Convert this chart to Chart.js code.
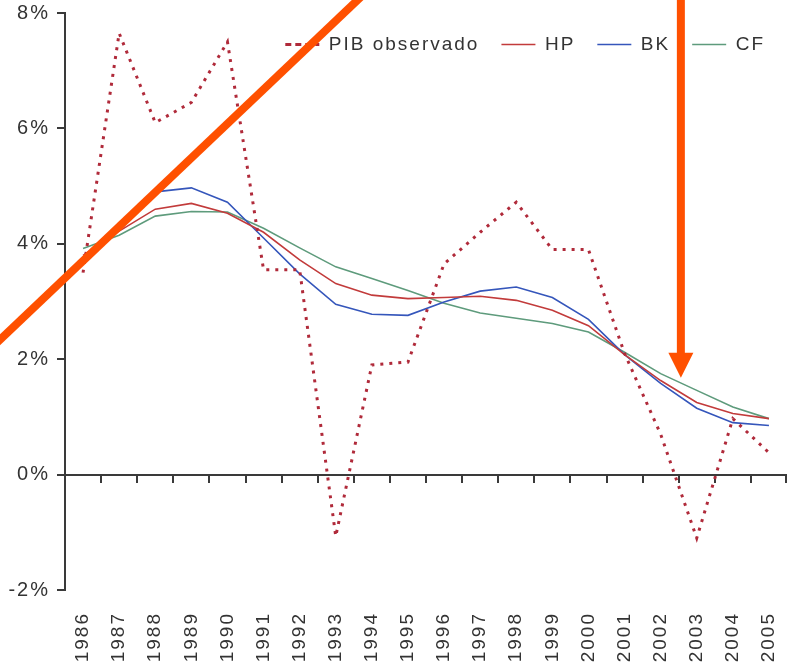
<!DOCTYPE html>
<html>
<head>
<meta charset="utf-8">
<script src="https://cdn.jsdelivr.net/npm/chart.js@4.4.0/dist/chart.umd.min.js"></script>
<style>
  body { margin: 0; background: #fff; }
  #wrap { width: 794px; height: 663px; }
</style>
</head>
<body>
<div id="wrap"><canvas id="myChart" width="794" height="663"></canvas></div>
<script>
var years = ["1986", "1987", "1988", "1989", "1990", "1991", "1992", "1993", "1994", "1995",
             "1996", "1997", "1998", "1999", "2000", "2001", "2002", "2003", "2004", "2005"];
var pibObservado = [3.5, 7.65, 6.1, 6.45, 7.5, 3.55, 3.55, -1.07, 1.9, 1.95,
                    3.65, 4.2, 4.72, 3.9, 3.9, 2.1, 0.7, -1.1, 0.97, 0.38];
var hp = [3.8, 4.22, 4.6, 4.7, 4.53, 4.2, 3.72, 3.31, 3.11, 3.05,
          3.07, 3.09, 3.02, 2.85, 2.58, 2.08, 1.63, 1.25, 1.06, 0.97];
var bk = [3.77, 4.35, 4.9, 4.97, 4.72, 4.1, 3.48, 2.95, 2.78, 2.76,
          2.99, 3.18, 3.25, 3.07, 2.69, 2.08, 1.58, 1.15, 0.9, 0.85];
var cf = [3.92, 4.15, 4.48, 4.56, 4.55, 4.27, 3.93, 3.6, 3.4, 3.19,
          2.97, 2.8, 2.71, 2.62, 2.47, 2.12, 1.75, 1.46, 1.17, 0.97];
var yTicks = [-2, 0, 2, 4, 6, 8];

// orange marks over the chart, in data units (category index, %)
var slashLine = [{x: -2.6, y: 2.16}, {x: 7.9, y: 8.4}];
var arrowLine = [{x: 16.56, y: 8.4}, {x: 16.56, y: 1.68}];

var axisColor = "#3a3a3a";

Chart.defaults.font.family = "'Liberation Sans', Arial, sans-serif";
Chart.defaults.color = "#333333";

// text in the picture is set a bit wide
var spacing = {
  id: "spacing",
  beforeUpdate: function(chart){ chart.ctx.letterSpacing = "2px"; },
  beforeDraw: function(chart){ chart.ctx.letterSpacing = "2px"; },
  beforeLayout: function(chart){
    // legend sits inside the plot, so it must not take room
    var lg = chart.legend;
    if (lg && !lg.patched) {
      var fit = lg.fit;
      lg.fit = function(){ fit.call(this); this.height = 0; };
      lg.patched = true;
    }
  },
  afterLayout: function(chart){
    var lg = chart.legend;
    lg.top = chart.chartArea.top;
    lg.bottom = lg.top + 70;
  }
};

// x axis runs along 0%, ticks between the years
var zeroAxis = {
  id: "zeroAxis",
  beforeDatasetsDraw: function(chart){
    var ctx = chart.ctx;
    var x = chart.scales.x, y = chart.scales.y, area = chart.chartArea;
    var y0 = Math.round(y.getPixelForValue(0));
    ctx.save();
    ctx.strokeStyle = axisColor;
    ctx.lineWidth = 2;
    ctx.beginPath();
    ctx.moveTo(area.left, y0);
    ctx.lineTo(area.right, y0);
    for (var i = 1; i <= years.length; i++) {
      var px = i < years.length ? (x.getPixelForValue(i - 1) + x.getPixelForValue(i)) / 2 : area.right - 1;
      px = Math.round(px);
      ctx.moveTo(px, y0);
      ctx.lineTo(px, y0 + 8);
    }
    ctx.stroke();
    ctx.restore();
  }
};

var overlay = {
  id: "overlay",
  afterDraw: function(chart){
    var ctx = chart.ctx;
    var x = chart.scales.x, y = chart.scales.y;
    ctx.save();
    ctx.strokeStyle = "#ff5000";
    ctx.fillStyle = "#ff5000";
    ctx.lineWidth = 8;
    ctx.beginPath();
    ctx.moveTo(x.getPixelForValue(slashLine[0].x), y.getPixelForValue(slashLine[0].y));
    ctx.lineTo(x.getPixelForValue(slashLine[1].x), y.getPixelForValue(slashLine[1].y));
    ctx.stroke();

    var ax = x.getPixelForValue(arrowLine[0].x);
    var top = y.getPixelForValue(arrowLine[0].y);
    var tip = y.getPixelForValue(arrowLine[1].y);
    ctx.beginPath();
    ctx.moveTo(ax, top);
    ctx.lineTo(ax, tip - 22);
    ctx.stroke();
    ctx.beginPath();
    ctx.moveTo(ax - 12.5, tip - 25);
    ctx.lineTo(ax + 12.5, tip - 25);
    ctx.lineTo(ax, tip);
    ctx.closePath();
    ctx.fill();
    ctx.restore();
  }
};

var makeLine = function(label, values, color, width){
  return {
    label: label,
    data: values,
    borderColor: color,
    backgroundColor: color,
    borderWidth: width,
    pointRadius: 0,
    tension: 0,
    fill: false
  };
};

var pib = makeLine("PIB observado", pibObservado, "#b02a3a", 3);
pib.borderDash = [3, 6];
pib.borderCapStyle = "butt";

var ctx = document.getElementById("myChart");
var myChart = new Chart(ctx, {
  type: "line",
  data: {
    labels: years,
    datasets: [
      pib,
      makeLine("HP", hp, "#c23b3b", 1.6),
      makeLine("BK", bk, "#3556bb", 1.6),
      makeLine("CF", cf, "#5e9b7c", 1.6)
    ]
  },
  options: {
    responsive: false,
    devicePixelRatio: 1,
    animation: false,
    layout: { padding: { left: 0, right: 7, top: 0, bottom: 0 } },
    plugins: {
      tooltip: { enabled: false },
      legend: {
        position: "top",
        align: "end",
        labels: {
          usePointStyle: true,
          pointStyle: "line",
          pointStyleWidth: 34,
          padding: 22,
          color: "#333333",
          font: { size: 19 },
          generateLabels: function(chart){
            var items = Chart.defaults.plugins.legend.labels.generateLabels(chart);
            items[0].lineDash = [6, 4];
            return items;
          }
        }
      }
    },
    scales: {
      x: {
        type: "category",
        offset: true,
        grid: { display: false },
        border: { display: false },
        ticks: {
          autoSkip: false,
          minRotation: 90,
          maxRotation: 90,
          padding: 14,
          font: { size: 19 }
        },
        afterFit: function(scale){
          scale.height = 73;
          scale.paddingLeft = 0;
          scale.paddingRight = 0;
        }
      },
      y: {
        min: -2,
        max: 8,
        grid: { drawOnChartArea: false, drawTicks: true, tickLength: 8, color: axisColor, lineWidth: 2 },
        border: { display: true, color: axisColor, width: 2 },
        ticks: {
          padding: 7,
          font: { size: 20 },
          callback: function(v){ return v + "%"; }
        },
        afterBuildTicks: function(scale){
          scale.ticks = yTicks.map(function(v){ return { value: v }; });
        },
        afterFit: function(scale){
          scale.width = 65;
          scale.paddingTop = 13;
          scale.paddingBottom = 0;
        }
      }
    }
  },
  plugins: [spacing, zeroAxis, overlay]
});
</script>
</body>
</html>
